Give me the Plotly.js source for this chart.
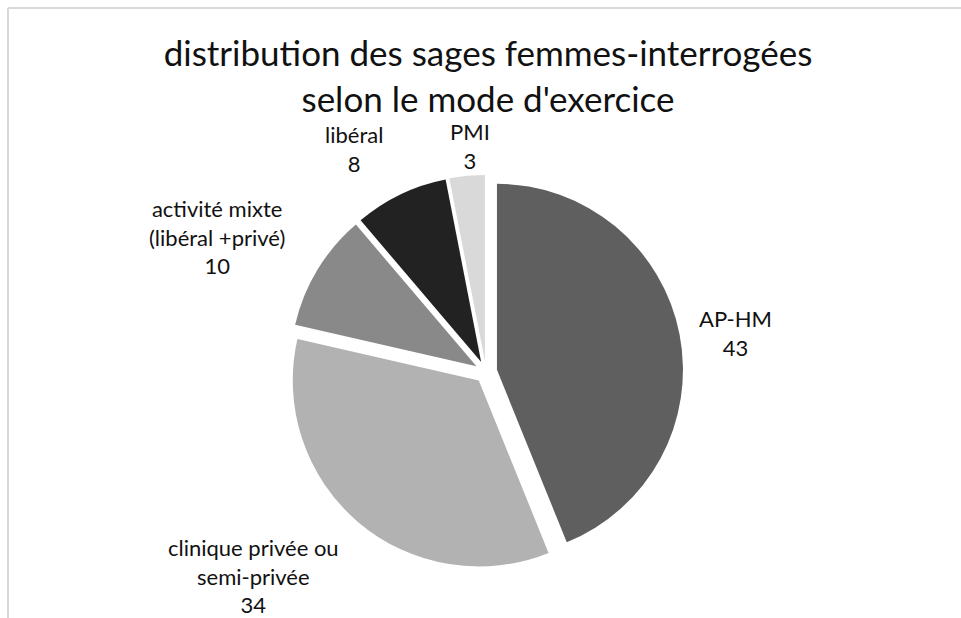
<!DOCTYPE html>
<html>
<head>
<meta charset="utf-8">
<script src="https://cdn.plot.ly/plotly-3.0.1.min.js"></script>
<style>html,body{margin:0;padding:0;background:#fff;}#chart{width:961px;height:618px;}</style>
</head>
<body>
<div id="chart"></div>
<script>
// Data
const labels = ["AP-HM", "clinique privée ou<br>semi-privée", "activité mixte<br>(libéral +privé)", "libéral", "PMI"];
const values = [43, 34, 10, 8, 3];
const chartTitle = "distribution des sages femmes-interrogées<br>selon le mode d'exercice";

// Styles / layout
const colors = ["#5f5f5f", "#b2b2b2", "#898989", "#222222", "#d9d9d9"];
const pullAmt = 0.06;
const labelPx = [[735, 333], [253, 576], [217, 237], [354, 149], [470, 146]]; // label centre positions (pixels)

const W = 961, H = 618;
const cx = 486, cy = 372, R = 186;
const side = 2 * R * (1 + pullAmt);
const FONT = "Lato, 'Open Sans', sans-serif";

const trace = {
  type: "pie",
  labels: labels,
  values: values,
  sort: false,
  direction: "clockwise",
  rotation: 0,
  pull: values.map(() => pullAmt),
  marker: {colors: colors, line: {color: "#ffffff", width: 0}},
  textinfo: "none",
  hoverinfo: "label+value",
  showlegend: false,
  domain: {
    x: [(cx - side / 2) / W, (cx + side / 2) / W],
    y: [(H - cy - side / 2) / H, (H - cy + side / 2) / H]
  }
};

const annotations = labels.map((lab, i) => ({
  xref: "paper", yref: "paper",
  x: labelPx[i][0] / W, y: 1 - labelPx[i][1] / H,
  xanchor: "center", yanchor: "middle",
  text: lab + "<br>" + values[i],
  showarrow: false, align: "center",
  font: {family: FONT, size: 22, color: "#111111"}
}));

const layout = {
  width: W, height: H,
  margin: {l: 0, r: 0, t: 0, b: 0},
  paper_bgcolor: "#ffffff",
  showlegend: false,
  title: {
    text: chartTitle,
    font: {family: FONT, size: 35, color: "#111111"},
    x: 488 / W, xanchor: "center",
    y: 1 - 66 / H, yref: "container", yanchor: "top"
  },
  annotations: annotations,
  shapes: [
    {type: "line", xref: "paper", yref: "paper", x0: 8 / W, x1: 1.01, y0: 1 - 8 / H, y1: 1 - 8 / H,
     line: {color: "#d9d9d9", width: 2}},
    {type: "line", xref: "paper", yref: "paper", x0: 8 / W, x1: 8 / W, y0: -0.01, y1: 1 - 8 / H,
     line: {color: "#d9d9d9", width: 2}}
  ]
};

Plotly.newPlot("chart", [trace], layout, {displayModeBar: false, staticPlot: true});
</script>
</body>
</html>
